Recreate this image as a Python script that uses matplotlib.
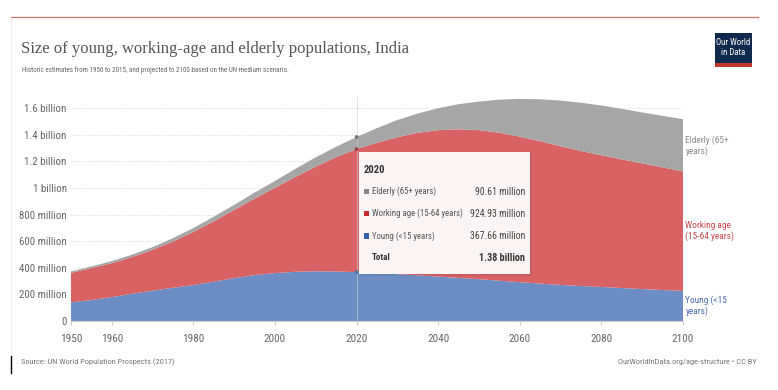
#!/usr/bin/env python3
from __future__ import annotations

import matplotlib
matplotlib.use("Agg")
import matplotlib.pyplot as plt
import numpy as np
from matplotlib import font_manager
from matplotlib.lines import Line2D
from matplotlib.patches import Rectangle


# population by age group, millions (UN WPP 2017, medium variant)
YEARS = list(range(1950, 2101, 5))
YOUNG = [140, 158, 180, 205, 228, 250, 270, 296, 322, 345, 360, 370, 374, 372, 367.66,
         360, 352, 343, 334, 324, 314, 303, 292, 281, 271, 263, 256, 248, 240, 233, 226]
WORKING = [222, 240, 255, 276, 307, 348, 400, 454, 513, 575, 642, 713, 787, 860, 924.93,
           980, 1030, 1072, 1101, 1117, 1121, 1112, 1094, 1071, 1043, 1015, 990, 967, 945, 922, 899]
ELDERLY = [11, 12, 15, 18, 20, 25, 29, 34, 38, 45, 51, 61, 70, 78, 90.61,
           110, 129, 145, 165, 189, 215, 249, 284, 315, 343, 363, 374, 380, 383, 387, 392]

SERIES_NAMES = ["Young (<15 years)", "Working age (15-64 years)", "Elderly (65+ years)"]
END_LABELS = ["Young (<15\nyears)", "Working age\n(15-64 years)", "Elderly (65+\nyears)"]

Y_TICKS = [0, 200, 400, 600, 800, 1000, 1200, 1400, 1600]
Y_TICK_LABELS = ["0", "200 million", "400 million", "600 million", "800 million",
                 "1 billion", "1.2 billion", "1.4 billion", "1.6 billion"]
X_TICKS = [1950, 1960, 1980, 2000, 2020, 2040, 2060, 2080, 2100]

HOVER_YEAR = 2020
TOOLTIP_VALUES = ["367.66 million", "924.93 million", "90.61 million"]
TOOLTIP_TOTAL = "1.38 billion"

FILL_COLORS = ["#6d8ec5", "#d96265", "#a6a6a6"]
KEY_COLORS = ["#3360a9", "#c8292c", "#888888"]
LABEL_COLORS = ["#4c6fb0", "#c9474c", "#8a8a8a"]

W, H = 778, 390


def _pick_font() -> tuple[str, str, float]:
    # a condensed sans is closest to the squeezed OWID text; sizes below are tuned for Lato
    entries = font_manager.fontManager.ttflist
    names = {f.name for f in entries}
    for name, scale in (("Roboto Condensed", 1.12), ("Liberation Sans Narrow", 1.12),
                        ("Open Sans Condensed", 1.05)):
        if name in names:
            return name, "normal", scale
    for f in entries:
        if f.name == "DejaVu Sans" and str(f.stretch) in ("condensed", "semi-condensed"):
            return "DejaVu Sans", "condensed", 0.92
    return "Lato", "normal", 1.0


def fx(x: float) -> float:
    return x / W


def fy(y: float) -> float:
    return 1 - y / H


def main() -> None:
    sans, stretch, k = _pick_font()
    plt.rcParams["font.family"] = [sans, "DejaVu Sans"]
    plt.rcParams["font.stretch"] = stretch

    fig = plt.figure(figsize=(W / 100, H / 100), dpi=100)
    fig.patch.set_facecolor("white")

    # frame of the OWID card
    fig.add_artist(Line2D([fx(11), fx(758)], [fy(17), fy(17)], color="#d0756f", lw=0.9))
    fig.add_artist(Line2D([fx(11), fx(11)], [fy(18), fy(352)], color="#eeeeee", lw=0.8))
    fig.add_artist(Line2D([fx(11), fx(11)], [fy(356), fy(373)], color="black", lw=1.0))

    fig.text(fx(21), fy(49), "Size of young, working-age and elderly populations, India",
             family=["Liberation Serif", "DejaVu Serif"], fontsize=12, color="#555555",
             va="center", ha="left")
    fig.text(fx(22), fy(70), "Historic estimates from 1950 to 2015, and projected to 2100 "
             "based on the UN medium scenario.", fontsize=4.5 * k, color="#666666",
             va="center", ha="left")

    # logo
    fig.add_artist(Rectangle((fx(715), fy(67)), fx(752) - fx(715), fy(33) - fy(67),
                             facecolor="#102a4e", edgecolor="none"))
    fig.add_artist(Rectangle((fx(715), fy(67)), fx(752) - fx(715), fy(63) - fy(67),
                             facecolor="#c0392b", edgecolor="none"))
    fig.text(fx(733.5), fy(47.5), "Our World\nin Data", fontsize=5.6 * k, color="white",
             ha="center", va="center", linespacing=1.05)

    ax = fig.add_axes([fx(71), fy(321), fx(683) - fx(71), fy(97) - fy(321)])
    years = np.asarray(YEARS, dtype=float)
    young = np.asarray(YOUNG, dtype=float)
    working = np.asarray(WORKING, dtype=float)
    elderly = np.asarray(ELDERLY, dtype=float)

    ax.stackplot(years, young, working, elderly, colors=FILL_COLORS, linewidth=0, zorder=2)

    ax.set_xlim(1950, 2100)
    ax.set_ylim(0, 1684)
    ax.set_yticks(Y_TICKS)
    ax.set_yticklabels(Y_TICK_LABELS)
    ax.set_xticks(X_TICKS)
    ax.set_xticklabels([str(x) for x in X_TICKS])
    ax.tick_params(axis="y", length=0, pad=3, labelsize=7.0 * k, labelcolor="#666666")
    ax.tick_params(axis="x", length=3, width=0.8, color="#cccccc", pad=6,
                   labelsize=7.2 * k, labelcolor="#666666")
    for name in ("top", "right", "left"):
        ax.spines[name].set_visible(False)
    ax.spines["bottom"].set_color("#cccccc")
    ax.spines["bottom"].set_linewidth(0.8)
    ax.grid(axis="y", color="#dddddd", linestyle=(0, (2, 2)), linewidth=0.6, zorder=0)
    ax.set_axisbelow(True)

    # hover line and points
    idx = YEARS.index(HOVER_YEAR)
    ax.axvline(HOVER_YEAR, color="#cfcfcf", lw=0.6, alpha=0.7, zorder=3)
    tops = np.cumsum([young[idx], working[idx], elderly[idx]])
    ax.scatter([HOVER_YEAR] * 3, tops, s=3, color=["#5577aa", "#a04046", "#777777"], zorder=4)

    # labels at the right end, centred on each band
    lows = [0, young[-1], young[-1] + working[-1]]
    sizes = [young[-1], working[-1], elderly[-1]]
    for label, lo, size, color in zip(END_LABELS, lows, sizes, LABEL_COLORS):
        ax.text(2100.6, lo + size / 2, label, fontsize=6.0 * k, color=color, ha="left",
                va="center", linespacing=1.2, clip_on=False)

    # tooltip
    fig.add_artist(Rectangle((fx(360.5), fy(275.5)), fx(530) - fx(359), fy(152) - fy(274),
                             facecolor="#000000", alpha=0.06, edgecolor="none", zorder=5))
    fig.add_artist(Rectangle((fx(359), fy(274)), fx(530) - fx(359), fy(152) - fy(274),
                             facecolor="white", alpha=0.94, edgecolor="none", zorder=5))
    fig.text(fx(364), fy(170), str(HOVER_YEAR), fontsize=6.8 * k, fontweight="bold",
             color="#333333", va="center", ha="left", zorder=6)
    row_y = [236, 213.5, 191.7]
    for name, value, color, y in zip(SERIES_NAMES, TOOLTIP_VALUES, KEY_COLORS, row_y):
        fig.add_artist(Rectangle((fx(364), fy(y + 2.7)), fx(5.3), fy(0) - fy(5.3),
                                 facecolor=color, edgecolor="none", zorder=6))
        fig.text(fx(372), fy(y), name, fontsize=5.6 * k, color="#555555",
                 va="center", ha="left", zorder=6)
        fig.text(fx(525), fy(y), value, fontsize=6.3 * k, color="#444444",
                 va="center", ha="right", zorder=6)
    fig.text(fx(372), fy(257.7), "Total", fontsize=5.8 * k, fontweight="bold",
             color="#333333", va="center", ha="left", zorder=6)
    fig.text(fx(525), fy(257.7), TOOLTIP_TOTAL, fontsize=6.4 * k, fontweight="bold",
             color="#333333", va="center", ha="right", zorder=6)

    # footer
    fig.text(fx(21), fy(362), "Source: UN World Population Prospects (2017)",
             fontsize=5.4 * k, color="#777777", va="center", ha="left")
    fig.text(fx(757), fy(362), "OurWorldInData.org/age-structure \u2022 CC BY",
             fontsize=5.4 * k, color="#777777", va="center", ha="right")

    fig.savefig("out.png", dpi=100, facecolor="white")
    plt.close(fig)


if __name__ == "__main__":
    main()
